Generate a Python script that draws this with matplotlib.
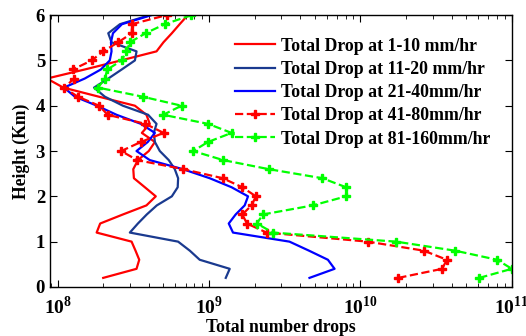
import numpy as np
import matplotlib
matplotlib.use("Agg")
import matplotlib.pyplot as plt
from matplotlib.ticker import LogLocator, NullFormatter, FixedLocator, FixedFormatter

plt.rcParams['font.family'] = 'Liberation Serif'
plt.rcParams['font.weight'] = 'bold'
plt.rcParams['mathtext.fontset'] = 'custom'
plt.rcParams['mathtext.rm'] = 'Liberation Serif:bold'
plt.rcParams['mathtext.bf'] = 'Liberation Serif:bold'

# heights in km
height = [0.2, 0.4, 0.6, 0.8, 1.0, 1.2, 1.4, 1.6, 1.8, 2.0,
          2.2, 2.4, 2.6, 2.8, 3.0, 3.2, 3.4, 3.6, 3.8, 4.0,
          4.2, 4.4, 4.6, 4.8, 5.0, 5.2, 5.4, 5.6, 5.8, 6.0]

# total drops, in units of 1e8
drops_1_10 = [2.00, 3.32, 3.46, 3.27, 3.08, 1.81, 1.91, 2.70, 3.86, 4.45,
              3.77, 3.19, 3.16, 3.39, 4.00, 4.39, 3.60, 4.06, 3.86, 3.24,
              1.87, 1.09, 0.85, 1.51, 2.62, 4.50, 5.00, 5.68, 6.40, 7.24]
drops_11_20 = [12.9, 13.7, 8.68, 7.47, 6.25, 3.00, 3.39, 3.88, 4.52, 5.68,
               6.21, 6.25, 5.94, 5.42, 4.73, 4.39, 4.32, 4.50, 3.96, 2.70,
               2.05, 1.74, 2.16, 2.65, 3.24, 3.32, 2.27, 2.16, 2.58, 4.06]
drops_21_40 = [46.1, 67.5, 61.0, 45.8, 34.0, 14.4, 13.5, 15.0, 17.2, 18.1,
               14.1, 10.1, 6.71, 4.06, 3.32, 3.94, 4.39, 3.55, 2.45, 1.82,
               1.30, 1.10, 1.51, 1.93, 2.21, 2.27, 2.25, 2.32, 2.66, 4.17]
drops_41_80 = [178, 347, 372, 263, 112, 24.0, 17.8, 16.6, 19.1, 20.4,
               16.6, 12.3, 6.76, 3.35, 2.63, 3.55, 5.01, 3.80, 2.14, 1.88,
               1.36, 1.10, 1.29, 1.26, 1.68, 2.00, 2.51, 3.09, 3.09, 5.25]
drops_81_160 = [610, 1000, 800, 423, 172, 26.4, 20.7, 22.7, 48.5, 80.5,
                80.5, 56.0, 24.8, 12.4, 7.85, 9.85, 14.1, 9.85, 4.98, 6.58,
                3.64, 1.85, 2.05, 2.13, 2.65, 2.85, 3.00, 3.81, 5.10, 7.66]

labels = ['Total Drop at 1-10 mm/hr', 'Total Drop at 11-20 mm/hr',
          'Total Drop at 21-40mm/hr', 'Total Drop at 41-80mm/hr',
          'Total Drop at 81-160mm/hr']

fig = plt.figure(figsize=(5.26, 3.36), dpi=100)
ax = fig.add_axes([0.095, 0.146, 0.878, 0.809])

scale = 1e8
ax.plot(np.array(drops_1_10) * scale, height, '-', color='#ff0000', lw=1.6, label=labels[0])
ax.plot(np.array(drops_11_20) * scale, height, '-', color='#1a3a8f', lw=1.6, label=labels[1])
ax.plot(np.array(drops_21_40) * scale, height, '-', color='#0000ff', lw=1.6, label=labels[2])
ax.plot(np.array(drops_41_80) * scale, height, '--', color='#ff0000', lw=1.6,
        marker='P', ms=5.5, label=labels[3])
ax.plot(np.array(drops_81_160) * scale, height, '--', color='#00ff00', lw=1.6,
        marker='P', ms=5.5, label=labels[4])

ax.set_xscale('log')
ax.set_xlim(8.9e7, 1e11)
ax.set_ylim(0, 6)

ax.xaxis.set_major_locator(FixedLocator([1e8, 1e9, 1e10, 1e11]))
ax.xaxis.set_major_formatter(FixedFormatter([r'$10^{8}$', r'$10^{9}$', r'$10^{10}$', r'$10^{11}$']))
ax.xaxis.set_minor_locator(LogLocator(base=10, subs=np.arange(2, 10), numticks=20))
ax.xaxis.set_minor_formatter(NullFormatter())
ax.set_yticks([0, 1, 2, 3, 4, 5, 6])

ax.tick_params(which='both', direction='in', top=True, right=True)
ax.tick_params(axis='x', labelsize=14, pad=6)
ax.tick_params(axis='y', labelsize=13.5)
ax.tick_params(which='major', length=5, width=0.8)
ax.tick_params(which='minor', length=3, width=0.6)
for lab in ax.get_xticklabels() + ax.get_yticklabels():
    lab.set_fontweight('bold')
for s in ax.spines.values():
    s.set_linewidth(1.0)

ax.set_xlabel('Total number drops', fontsize=12.7, fontweight='bold', labelpad=1)
ax.set_ylabel('Height (Km)', fontsize=12.7, fontweight='bold', labelpad=4)

leg = ax.legend(loc='upper left', bbox_to_anchor=(0.40, 0.917), frameon=True,
                fontsize=12.8, handlelength=2.25, handletextpad=0.35,
                labelspacing=0.35, borderaxespad=0, borderpad=0)
leg.get_frame().set_edgecolor('white')
leg.get_frame().set_facecolor('white')
leg.get_frame().set_alpha(1.0)
for t in leg.get_texts():
    t.set_fontweight('bold')

fig.savefig('out.png', dpi=100)
